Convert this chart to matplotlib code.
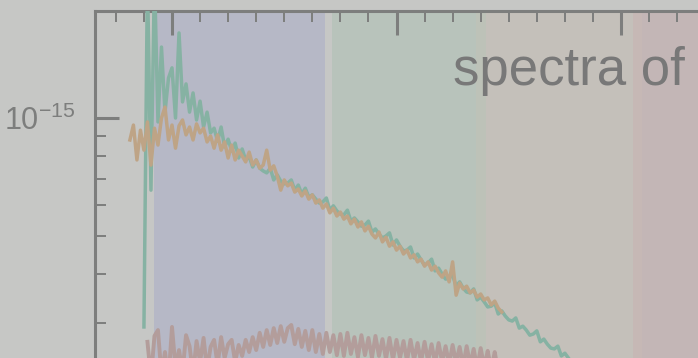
import numpy as np
import matplotlib
matplotlib.use('Agg')
import matplotlib.pyplot as plt
from matplotlib.ticker import MultipleLocator, LogLocator, NullFormatter, FixedLocator

plt.rcParams['font.family'] = ['Liberation Sans', 'DejaVu Sans']
plt.rcParams['axes.unicode_minus'] = False

# frequency bins (uniform grid, step 1/64)
freq_teal = np.linspace(0.875, 2.875, 129)
freq_tan = np.linspace(0.8125, 2.46875, 107)
freq_pink = np.linspace(0.890625, 2.46875, 102)

# log10 of spectral power
log_teal = [
    -15.533, -14.635, -15.184, -14.635, -15.010, -14.819, -14.985, -14.898, -14.872, -15.000,
    -14.783, -14.959, -14.913, -14.985, -14.936, -15.005, -14.957, -15.023, -14.985, -15.038,
    -15.026, -15.059, -15.023, -15.074, -15.054, -15.084, -15.064, -15.102, -15.079, -15.107,
    -15.099, -15.125, -15.107, -15.128, -15.135, -15.140, -15.128, -15.158, -15.145, -15.161,
    -15.168, -15.166, -15.158, -15.184, -15.171, -15.194, -15.179, -15.202, -15.196, -15.207,
    -15.217, -15.214, -15.204, -15.235, -15.224, -15.237, -15.245, -15.247, -15.235, -15.263,
    -15.255, -15.265, -15.276, -15.273, -15.263, -15.291, -15.283, -15.296, -15.306, -15.301,
    -15.293, -15.324, -15.311, -15.327, -15.339, -15.337, -15.329, -15.357, -15.347, -15.362,
    -15.375, -15.370, -15.360, -15.390, -15.383, -15.398, -15.411, -15.408, -15.401, -15.429,
    -15.418, -15.434, -15.444, -15.446, -15.436, -15.464, -15.457, -15.469, -15.482, -15.480,
    -15.472, -15.500, -15.492, -15.505, -15.515, -15.518, -15.510, -15.536, -15.531, -15.541,
    -15.554, -15.551, -15.543, -15.571, -15.564, -15.577, -15.587, -15.589, -15.582, -15.607,
    -15.600, -15.612, -15.625, -15.622, -15.615, -15.643, -15.635, -15.648, -15.661,
]

log_tan = [
    -15.056, -15.018, -15.107, -15.031, -15.082, -15.010, -15.120, -15.026, -15.069, -15.000,
    -14.972, -15.056, -15.018, -15.077, -15.020, -15.005, -15.043, -15.023, -15.056, -15.015,
    -15.038, -15.026, -15.061, -15.046, -15.077, -15.043, -15.082, -15.061, -15.102, -15.069,
    -15.107, -15.082, -15.097, -15.112, -15.087, -15.120, -15.107, -15.128, -15.120, -15.082,
    -15.133, -15.122, -15.148, -15.184, -15.158, -15.173, -15.166, -15.189, -15.181, -15.199,
    -15.186, -15.207, -15.196, -15.217, -15.209, -15.230, -15.219, -15.242, -15.230, -15.250,
    -15.240, -15.258, -15.250, -15.270, -15.258, -15.278, -15.265, -15.288, -15.276, -15.296,
    -15.306, -15.291, -15.316, -15.304, -15.327, -15.316, -15.337, -15.327, -15.347, -15.337,
    -15.357, -15.349, -15.367, -15.360, -15.378, -15.367, -15.388, -15.378, -15.395, -15.406,
    -15.390, -15.418, -15.367, -15.452, -15.421, -15.436, -15.429, -15.446, -15.439, -15.457,
    -15.449, -15.464, -15.459, -15.477, -15.467, -15.485, -15.495,
]

log_pink = [
    -15.571, -15.663, -15.556, -15.541, -15.656, -15.597, -15.668, -15.533, -15.638, -15.592,
    -15.648, -15.554, -15.582, -15.653, -15.569, -15.622, -15.561, -15.643, -15.584, -15.566,
    -15.630, -15.559, -15.612, -15.577, -15.566, -15.622, -15.579, -15.607, -15.566, -15.597,
    -15.559, -15.592, -15.548, -15.584, -15.541, -15.579, -15.536, -15.574, -15.531, -15.571,
    -15.536, -15.528, -15.577, -15.538, -15.584, -15.543, -15.592, -15.541, -15.597, -15.551,
    -15.602, -15.548, -15.597, -15.554, -15.605, -15.551, -15.607, -15.548, -15.602, -15.559,
    -15.610, -15.554, -15.605, -15.561, -15.612, -15.556, -15.607, -15.564, -15.615, -15.561,
    -15.617, -15.566, -15.612, -15.569, -15.620, -15.566, -15.617, -15.574, -15.622, -15.571,
    -15.620, -15.577, -15.625, -15.574, -15.622, -15.582, -15.628, -15.579, -15.625, -15.584,
    -15.633, -15.582, -15.630, -15.589, -15.638, -15.587, -15.635, -15.594, -15.643, -15.597,
    -15.648, -15.656,
]

# shaded frequency bands
band_edges = [(0.92, 1.681), (1.713, 2.354), (2.354, 2.399), (2.399, 3.053), (3.053, 3.094), (3.094, 3.6)]
band_colors = ['#b6b8c6', '#b8c3bb', '#bdc2b8', '#c4c0ba', '#c6b8b5', '#c3b6b6']

title_text = 'spectra of'

bg = '#c6c7c5'
grey = '#7d7e7d'

fig = plt.figure(figsize=(6.98, 3.58), dpi=100, facecolor=bg)
ax = fig.add_axes([95 / 698, 1 - 588.4 / 358, 660.7 / 698, 577.4 / 358])
ax.set_facecolor(bg)

for (x0, x1), c in zip(band_edges, band_colors):
    ax.axvspan(x0, x1, color=c, lw=0, zorder=0)

ax.plot(freq_pink, 10 ** np.array(log_pink), color='#b39d9b', lw=2.8, zorder=2)
ax.plot(freq_teal, 10 ** np.array(log_teal), color='#86b2a3', lw=2.5, zorder=3)
ax.plot(freq_tan, 10 ** np.array(log_tan), color='#bea486', lw=2.5, zorder=4)

ax.set_yscale('log')
ax.set_xlim(0.657, 3.6)
ax.set_ylim(10 ** -16.2, 10 ** -14.727)

ax.xaxis.set_major_locator(MultipleLocator(1))
ax.xaxis.set_minor_locator(MultipleLocator(0.125))
ax.xaxis.set_major_formatter(NullFormatter())
ax.yaxis.set_major_locator(FixedLocator([1e-15]))
ax.yaxis.set_minor_locator(LogLocator(base=10, subs=range(2, 10)))
ax.yaxis.set_minor_formatter(NullFormatter())

ax.tick_params(which='both', direction='in', top=True, right=False, color=grey,
               labelcolor=grey, labelsize=22)
ax.tick_params(which='major', length=17, width=2.2, pad=14)
ax.tick_params(which='minor', length=8, width=1.4)

for s in ['left', 'top']:
    ax.spines[s].set_color(grey)
    ax.spines[s].set_linewidth(2.2)

fig.text(453 / 698, 1 - 85 / 358, title_text, fontsize=38, color='#787878',
         ha='left', va='baseline')

fig.savefig('out.png', dpi=100, facecolor=bg)
